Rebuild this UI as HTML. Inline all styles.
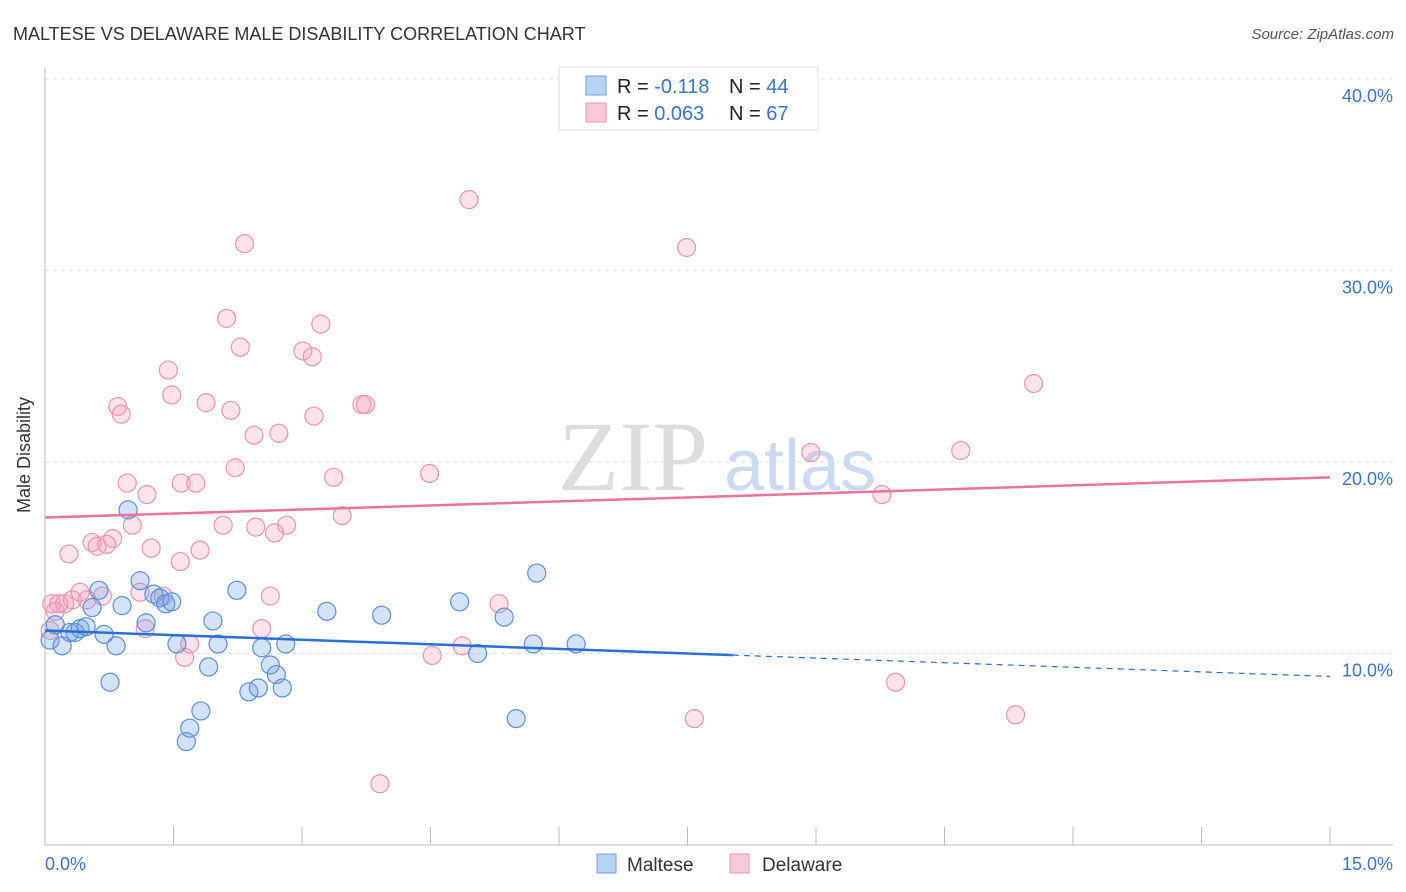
<!DOCTYPE html>
<html><head><meta charset="utf-8"><style>
body{margin:0;background:#fff;font-family:"Liberation Sans",sans-serif;}
svg{display:block}
</style></head><body>
<svg id="chart" width="1406" height="892">
<text x="13" y="40" font-size="18" fill="#333">MALTESE VS DELAWARE MALE DISABILITY CORRELATION CHART</text>
<text x="1394" y="39" font-size="15" fill="#555" font-style="italic" text-anchor="end">Source: ZipAtlas.com</text>
<g id="grid"></g>
<text x="633" y="490" font-size="100" font-family="Liberation Serif,serif" fill="#ddd" text-anchor="middle">ZIP</text>
<text x="800" y="490" font-size="72" fill="#c9daf1" text-anchor="middle">atlas</text>
<g id="axes"></g>
<g id="points"></g>
<g id="trends"></g>
<text x="30" y="455" font-size="18" fill="#333" text-anchor="middle" transform="rotate(-90 30 455)">Male Disability</text>
<text x="45" y="870" font-size="18" fill="#3a72c9">0.0%</text>
<text x="1393" y="870" font-size="18" fill="#3a72c9" text-anchor="end">15.0%</text>
<g>
<rect x="559" y="67" width="259" height="63" fill="#fff" stroke="#ddd"/>
<rect x="586" y="76" width="20" height="19" fill="#b8d2f4" stroke="#6f9fe0"/>
<rect x="586" y="103" width="20" height="19" fill="#fbc9d8" stroke="#eb93b0"/>
<text x="617" y="93" font-size="20" fill="#222">R = <tspan fill="#3a72c9">-0.118</tspan></text>
<text x="729" y="93" font-size="20" fill="#222">N = <tspan fill="#3a72c9">44</tspan></text>
<text x="617" y="120" font-size="20" fill="#222">R = <tspan fill="#3a72c9">0.063</tspan></text>
<text x="729" y="120" font-size="20" fill="#222">N = <tspan fill="#3a72c9"> 67</tspan></text>
</g>
<g>
<rect x="597" y="854" width="19" height="19" fill="#b8d2f4" stroke="#6f9fe0"/>
<text x="627" y="871" font-size="19" fill="#333">Maltese</text>
<rect x="730" y="854" width="19" height="19" fill="#fbc9d8" stroke="#eb93b0"/>
<text x="762" y="871" font-size="19" fill="#333">Delaware</text>
</g>
</svg>
<script>
const yTicks=[10,20,30,40];
const yTickLabels=["10.0%","20.0%","30.0%","40.0%"];
const xTickCount=10;
const malteseX=[0.06,0.20,0.12,0.29,0.35,0.41,0.48,0.55,0.63,0.69,0.76,0.83,0.90,0.97,1.11,1.18,1.27,1.34,1.41,1.48,1.54,1.65,1.69,1.82,1.91,1.96,2.02,2.24,2.38,2.49,2.53,2.63,2.70,2.77,2.81,3.29,3.93,4.84,5.05,5.36,5.50,5.70,5.74,6.20];
const malteseY=[10.7,10.4,11.5,11.1,11.1,11.3,11.4,12.4,13.3,11.0,8.5,10.4,12.5,17.5,13.8,11.6,13.1,12.9,12.6,12.7,10.5,5.4,6.1,7.0,9.3,11.7,10.5,13.3,8.0,8.2,10.3,9.4,8.9,8.2,10.5,12.2,12.0,12.7,10.0,11.9,6.6,10.5,14.2,10.5];
const delawareX=[2.33,4.95,7.49,2.12,2.28,3.22,3.01,3.12,1.44,1.48,0.85,0.89,1.88,2.17,3.70,3.74,3.14,2.44,2.73,11.54,8.94,10.69,4.49,2.22,3.37,0.96,1.19,1.59,1.76,9.77,3.47,2.08,2.46,2.82,2.68,1.02,0.79,0.55,0.61,0.72,1.24,0.28,1.81,1.58,0.08,0.16,0.23,0.32,0.41,0.49,0.67,1.38,1.11,2.63,5.30,0.12,1.17,2.53,0.06,1.69,1.63,4.52,4.87,9.93,7.58,11.33,3.91];
const delawareY=[31.4,33.7,31.2,27.5,26.0,27.2,25.8,25.5,24.8,23.5,22.9,22.5,23.1,22.7,23.0,23.0,22.4,21.4,21.5,24.1,20.5,20.6,19.4,19.7,19.2,18.9,18.3,18.9,18.9,18.3,17.2,16.7,16.6,16.7,16.3,16.7,16.0,15.8,15.6,15.7,15.5,15.2,15.4,14.8,12.6,12.6,12.6,12.8,13.2,12.8,13.0,13.0,13.2,13.0,12.6,12.2,11.3,11.3,11.2,10.5,9.8,9.9,10.4,8.5,6.6,6.8,3.2];
const malteseTrend=[11.2,8.8];
const delawareTrend=[17.1,19.2];
const malteseSolidEnd=8.03;
const NS="http://www.w3.org/2000/svg";
const X=v=>45+v/15*1285;
const Y=v=>845-v*19.15;
function mk(tag,attrs,parent){const e=document.createElementNS(NS,tag);for(const k in attrs)e.setAttribute(k,attrs[k]);parent.appendChild(e);return e;}
const grid=document.getElementById('grid'),axes=document.getElementById('axes'),pts=document.getElementById('points'),tr=document.getElementById('trends'),svg=document.getElementById('chart');
yTicks.forEach((t,i)=>{
 const l=mk('line',{x1:45,x2:1393,y1:Y(t),y2:Y(t),stroke:'#ddd','stroke-dasharray':'4,4'},grid);
 
 
 const tx=mk('text',{x:1393,y:Y(t)+23,'font-size':18,fill:'#3a72c9','text-anchor':'end'},svg);
 tx.textContent=yTickLabels[i];
 
 
});
const ya=mk('line',{x1:45,x2:45,y1:68,y2:845,stroke:'#bbb'},axes);


const xa=mk('line',{x1:45,x2:1393,y1:845,y2:845,stroke:'#bbb'},axes);


for(let i=0;i<=xTickCount;i++){
 const v=15*i/xTickCount;
 const t=mk('line',{x1:X(v),x2:X(v),y1:827,y2:845,stroke:'#bbb'},axes);
 
 
}
delawareX.forEach((x,i)=>{
 const c=mk('circle',{cx:X(x),cy:Y(delawareY[i]),r:9,fill:'rgba(243,160,188,0.3)',stroke:'#eb93b0','stroke-width':1.2},pts);
 
 
});
malteseX.forEach((x,i)=>{
 const c=mk('circle',{cx:X(x),cy:Y(malteseY[i]),r:9,fill:'rgba(110,160,230,0.3)',stroke:'#5b8fd9','stroke-width':1.2},pts);
 
 
});
const dl=mk('line',{x1:X(0),y1:Y(delawareTrend[0]),x2:X(15),y2:Y(delawareTrend[1]),stroke:'#e8739b','stroke-width':2.5},tr);


const my=v=>malteseTrend[0]+(malteseTrend[1]-malteseTrend[0])*v/15;
const ml=mk('line',{x1:X(0),y1:Y(my(0)),x2:X(malteseSolidEnd),y2:Y(my(malteseSolidEnd)),stroke:'#2a6fd6','stroke-width':2.5},tr);


const md=mk('line',{x1:X(malteseSolidEnd),y1:Y(my(malteseSolidEnd)),x2:X(15),y2:Y(my(15)),stroke:'#2a6fd6','stroke-width':1.2,'stroke-dasharray':'6,5'},tr);


</script>
</body></html>
